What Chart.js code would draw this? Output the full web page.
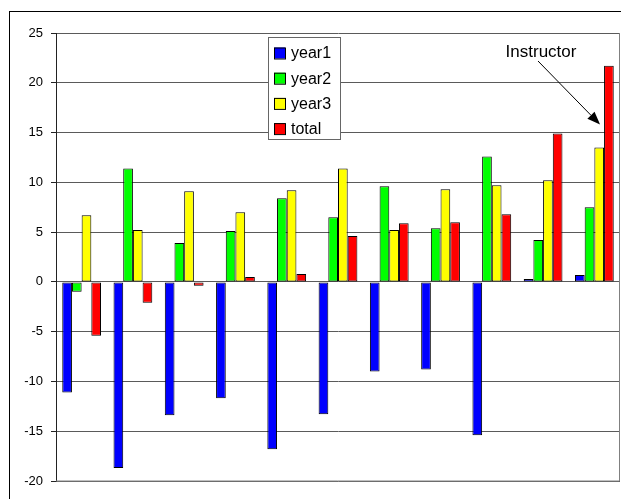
<!DOCTYPE html>
<html lang="en">
<head>
    <meta charset="UTF-8">
    <title>Scores by year</title>
    <script src="https://cdn.jsdelivr.net/npm/chart.js"></script>
    <style>
        body { margin: 0; background: #fff; font-family: Arial, "Liberation Sans", sans-serif; }
        .wrap { width: 621px; height: 499px; }
    </style>
</head>
<body>
    <div class="wrap">
        <canvas id="chart" width="621" height="499"></canvas>
    </div>

    <script>
        const groups = ['1', '2', '3', '4', '5', '6', '7', '8', '9', '10', '11'];
        const year1 = [-11.1, -18.7, -13.4, -11.7, -16.8, -13.3, -9.0, -8.8, -15.4, 0.3, 0.7];
        const year2 = [-1.0, 11.4, 3.9, 5.1, 8.4, 6.5, 9.6, 5.4, 12.6, 4.2, 7.5];
        const year3 = [6.7, 5.2, 9.1, 7.0, 9.2, 11.4, 5.2, 9.3, 9.7, 10.2, 13.5];
        const total = [-5.4, -2.1, -0.4, 0.5, 0.8, 4.6, 5.9, 6.0, 6.8, 14.9, 21.7];
        const seriesNames = ['year1', 'year2', 'year3', 'total'];
        const seriesColors = ['#0000ff', '#00ff00', '#ffff00', '#ff0000'];
        const yTicks = [-20, -15, -10, -5, 0, 5, 10, 15, 20, 25];

        const FONT = 'Arial, "Liberation Sans", sans-serif';

        // frame, plot border, legend box and the "Instructor" callout
        const decorations = {
            id: 'decorations',
            afterDraw(chart) {
                const ctx = chart.ctx;
                const area = chart.chartArea;
                ctx.save();

                // outer frame (runs off the right and bottom edges)
                ctx.strokeStyle = '#000';
                ctx.lineWidth = 1;
                ctx.strokeRect(9.5, 11.5, 700, 600);

                // plot border right / bottom
                ctx.strokeStyle = '#808080';
                ctx.beginPath();
                ctx.moveTo(area.right - 0.5, area.top);
                ctx.lineTo(area.right - 0.5, area.bottom);
                ctx.lineTo(area.left, area.bottom);
                ctx.stroke();

                // legend
                const lx = 268.5, ly = 37.5, lw = 72, lh = 102;
                ctx.fillStyle = '#fff';
                ctx.fillRect(lx, ly, lw, lh);
                ctx.strokeStyle = '#666';
                ctx.strokeRect(lx, ly, lw, lh);
                ctx.font = '16px ' + FONT;
                ctx.textBaseline = 'middle';
                chart.data.datasets.forEach((ds, i) => {
                    const cy = 53 + i * 25.2;
                    ctx.fillStyle = ds.backgroundColor;
                    ctx.fillRect(274, cy - 5.5, 11, 11);
                    ctx.strokeStyle = '#000';
                    ctx.strokeRect(274.5, cy - 5, 11, 11);
                    ctx.fillStyle = '#000';
                    ctx.fillText(ds.label, 291, cy + 1);
                });

                // callout pointing at the last "total" bar
                const meta = chart.getDatasetMeta(3);
                const bar = meta.data[meta.data.length - 1];
                const yScale = chart.scales.y;
                const tipX = bar.x - bar.width / 2 - 4;
                const tipY = yScale.getPixelForValue(15.8);
                const textX = area.right - 79;
                const textY = area.top + 24;
                ctx.font = '17px ' + FONT;
                ctx.textAlign = 'center';
                ctx.textBaseline = 'alphabetic';
                ctx.fillStyle = '#000';
                ctx.fillText('Instructor', textX, textY);

                const sx = textX - 3, sy = textY + 4;
                const ang = Math.atan2(tipY - sy, tipX - sx);
                const headLen = 13, headW = 5;
                const bx = tipX - headLen * Math.cos(ang);
                const by = tipY - headLen * Math.sin(ang);
                ctx.strokeStyle = '#000';
                ctx.lineWidth = 1;
                ctx.beginPath();
                ctx.moveTo(sx, sy);
                ctx.lineTo(bx, by);
                ctx.stroke();
                ctx.beginPath();
                ctx.moveTo(tipX, tipY);
                ctx.lineTo(bx + headW * Math.sin(ang), by - headW * Math.cos(ang));
                ctx.lineTo(bx - headW * Math.sin(ang), by + headW * Math.cos(ang));
                ctx.closePath();
                ctx.fill();

                ctx.restore();
            }
        };

        const seriesData = [year1, year2, year3, total];

        new Chart(document.getElementById('chart'), {
            type: 'bar',
            data: {
                labels: groups,
                datasets: seriesNames.map((name, i) => ({
                    label: name,
                    data: seriesData[i],
                    backgroundColor: seriesColors[i],
                    borderColor: '#000',
                    borderWidth: 1,
                    borderSkipped: false,
                    categoryPercentage: 0.756,
                    barPercentage: 1.0
                }))
            },
            options: {
                responsive: false,
                animation: false,
                layout: { padding: { left: 10, top: 33, right: 1, bottom: 18 } },
                plugins: {
                    legend: { display: false },
                    tooltip: { enabled: false }
                },
                scales: {
                    x: {
                        display: false,
                        grid: { display: false }
                    },
                    y: {
                        min: -20,
                        max: 25,
                        afterBuildTicks: scale => {
                            scale.ticks = yTicks.map(v => ({ value: v }));
                        },
                        afterFit: scale => { scale.width = 46; },
                        border: { color: '#222', width: 1 },
                        grid: {
                            color: '#5a5a5a',
                            lineWidth: 1,
                            tickLength: 5,
                            tickColor: '#222'
                        },
                        ticks: {
                            padding: 8,
                            color: '#000',
                            font: { family: FONT, size: 13 }
                        }
                    }
                }
            },
            plugins: [decorations]
        });
    </script>
</body>
</html>
